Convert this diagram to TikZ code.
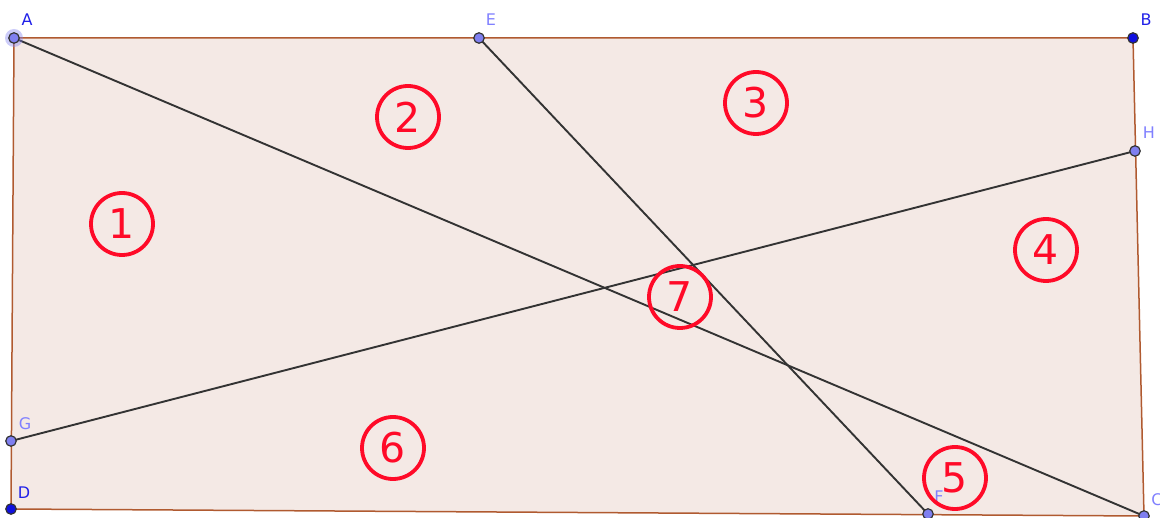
\documentclass[tikz,border=0pt]{standalone}
\usepackage{fontspec}
\setmainfont{DejaVu Sans}
\begin{document}
\begin{tikzpicture}[x=1pt,y=-1pt,
  region/.style={draw=edgecol,line width=1.5pt,fill=fillcol},
  seg/.style={draw=segcol,line width=1.9pt},
  freept/.style={circle,draw=black!80,line width=1.2pt,fill=ptlight,inner sep=0pt,minimum size=10.5pt},
  darkpt/.style={circle,draw=black!80,line width=1.2pt,fill=ptdark,inner sep=0pt,minimum size=10.5pt},
  lbl/.style={font=\fontsize{16}{16}\selectfont,text=lbllight,inner sep=0pt},
  lbld/.style={font=\fontsize{16}{16}\selectfont,text=lbldark,inner sep=0pt},
  num/.style={circle,draw=numred,line width=3.8pt,text=numred,minimum size=62pt,inner sep=0pt,font=\fontsize{41}{41}\selectfont}]
\definecolor{fillcol}{HTML}{F4E9E5}
\definecolor{edgecol}{HTML}{B05A30}
\definecolor{segcol}{HTML}{333333}
\definecolor{ptlight}{HTML}{7F7FF0}
\definecolor{ptdark}{HTML}{1010E0}
\definecolor{lbllight}{HTML}{8080FF}
\definecolor{lbldark}{HTML}{2020E8}
\definecolor{numred}{HTML}{FF0A28}
\useasboundingbox (0,0) rectangle (1160,518);
\coordinate (A) at (14,38);
\coordinate (E) at (479,38);
\coordinate (B) at (1133,38);
\coordinate (H) at (1135,151);
\coordinate (G) at (11,441);
\coordinate (D) at (11,509);
\coordinate (F) at (928,514);
\coordinate (C) at (1144,516);
\path[region] (A) -- (B) -- (C) -- (D) -- cycle;
\draw[seg] (A) -- (C);
\draw[seg] (E) -- (F);
\draw[seg] (G) -- (H);
\fill[ptlight,opacity=0.4] (A) circle (9pt);
\node[freept] (pA) at (A) {};
\node[freept] (pE) at (E) {};
\node[darkpt] (pB) at (B) {};
\node[freept] (pH) at (H) {};
\node[freept] (pG) at (G) {};
\node[darkpt] (pD) at (D) {};
\node[freept] (pF) at (F) {};
\node[freept] (pC) at (C) {};
\node[lbld] (lA) at (27,20) {A};
\node[lbl] (lE) at (491,20) {E};
\node[lbld] (lB) at (1146,20) {B};
\node[lbl] (lH) at (1149,133) {H};
\node[lbl] (lG) at (25,424) {G};
\node[lbld] (lD) at (24,493) {D};
\node[lbl] (lF) at (939,497) {F};
\node[lbl] (lC) at (1157,500) {C};
\node[num] (n1) at (122,224) {1};
\node[num] (n2) at (408,117) {2};
\node[num] (n3) at (756,103) {3};
\node[num] (n4) at (1046,250) {4};
\node[num] (n5) at (955,478) {5};
\node[num] (n6) at (393,448) {6};
\node[num] (n7) at (680,297) {7};
\end{tikzpicture}
\end{document}
